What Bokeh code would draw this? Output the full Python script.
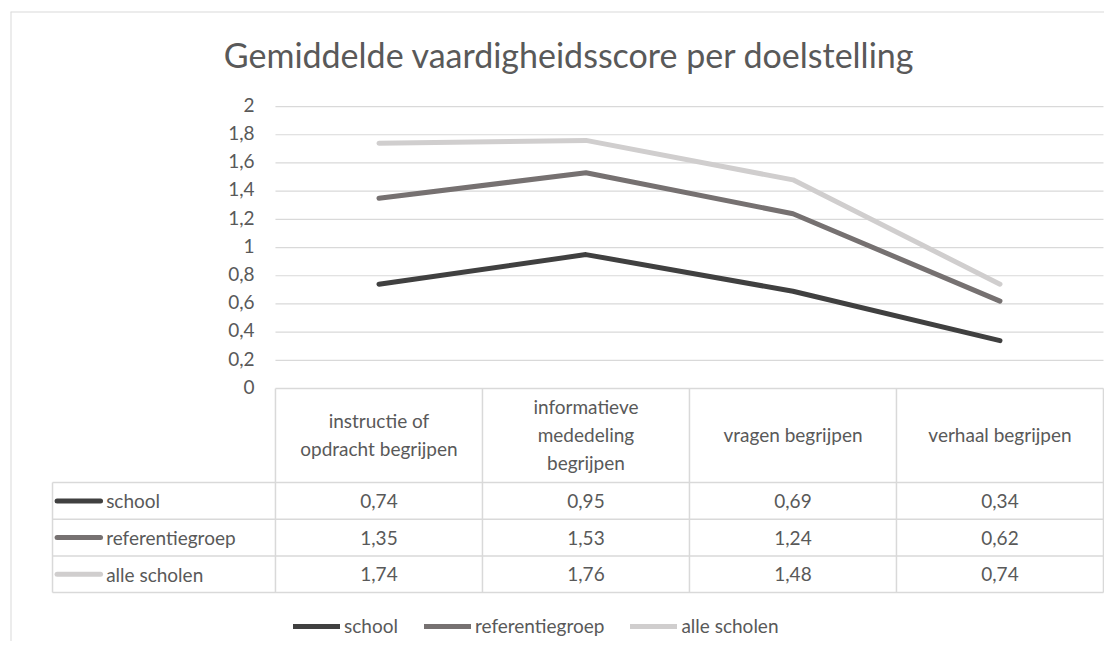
from bokeh.plotting import figure
from bokeh.models import ColumnDataSource, Range1d, Span, Legend, LegendItem
from bokeh.core.properties import value
from bokeh.embed import file_html
from bokeh.resources import INLINE

# ---- data ----
title_text = "Gemiddelde vaardigheidsscore per doelstelling"
categories = ["instructie of\nopdracht begrijpen",
              "informatieve\nmededeling\nbegrijpen",
              "vragen begrijpen",
              "verhaal begrijpen"]
series_names = ["school", "referentiegroep", "alle scholen"]
school = [0.74, 0.95, 0.69, 0.34]
referentiegroep = [1.35, 1.53, 1.24, 0.62]
alle_scholen = [1.74, 1.76, 1.48, 0.74]
y_ticks = [0, 0.2, 0.4, 0.6, 0.8, 1.0, 1.2, 1.4, 1.6, 1.8, 2.0]
y_tick_labels = ["0", "0,2", "0,4", "0,6", "0,8", "1", "1,2", "1,4", "1,6", "1,8", "2"]

series = [school, referentiegroep, alle_scholen]
colors = ["#404040", "#767171", "#d0cece"]
FONT = "Lato"
TXT = "#595959"
GRID = "#d9d9d9"
FS = "19px"

xs = list(range(len(categories)))
n = len(categories)

X0, X1 = -1.780, 3.505
Y0, Y1 = -1.794, 2.674
p = figure(width=1104, height=641, output_backend="svg", toolbar_location=None,
           x_range=Range1d(X0, X1), y_range=Range1d(Y0, Y1),
           min_border_left=10, min_border_top=11, min_border_right=0, min_border_bottom=0)
p.axis.visible = False
p.grid.visible = False
p.outline_line_color = None
p.background_fill_color = "white"
p.border_fill_color = "white"

# outer chart border (left / top)
p.add_layout(Span(location=X0, dimension="height", line_color=GRID, line_width=2))
p.add_layout(Span(location=Y1, dimension="width", line_color=GRID, line_width=2))

# title
p.text(x=[(n - 1) / 2 - 0.58], y=[2.37], text=[title_text],
       text_font=value(FONT), text_font_size="34px", text_color=TXT,
       text_align="center", text_baseline="middle")

# gridlines
gt = y_ticks[1:]
p.segment(x0=[-0.5] * len(gt), x1=[n - 0.5] * len(gt), y0=gt, y1=gt,
          line_color=GRID, line_width=1.2)

# y tick labels
p.text(x=[-0.601] * len(y_ticks), y=[t + 0.012 for t in y_ticks], text=y_tick_labels,
       text_font=value(FONT), text_font_size=FS, text_color=TXT,
       text_align="right", text_baseline="middle")

# ---- data table ----
head_bot = -0.667
row_h = 0.26
tbl_left = -1.577
row_lines = [head_bot - i * row_h for i in range(len(series) + 1)]
tbl_bot = row_lines[-1]
p.segment(x0=[-0.5], x1=[n - 0.5], y0=[0], y1=[0], line_color=GRID, line_width=1.5)
p.segment(x0=[tbl_left] * len(row_lines), x1=[n - 0.5] * len(row_lines),
          y0=row_lines, y1=row_lines, line_color=GRID, line_width=1.5)
vx = [i - 0.5 for i in range(n + 1)]
p.segment(x0=vx, x1=vx, y0=[0] * len(vx), y1=[tbl_bot] * len(vx),
          line_color=GRID, line_width=1.5)
p.segment(x0=[tbl_left], x1=[tbl_left], y0=[head_bot], y1=[tbl_bot],
          line_color=GRID, line_width=1.5)

# header labels
p.text(x=xs, y=[head_bot / 2 + 0.005] * n, text=categories,
       text_font=value(FONT), text_font_size=FS, text_color=TXT,
       text_align="center", text_baseline="middle", text_line_height=1.22)

# rows
for k, (name, vals, col) in enumerate(zip(series_names, series, colors)):
    yc = head_bot - (k + 0.5) * row_h
    p.text(x=xs, y=[yc] * n, text=[f"{v:.2f}".replace(".", ",") for v in vals],
           text_font=value(FONT), text_font_size=FS, text_color=TXT,
           text_align="center", text_baseline="middle")
    p.segment(x0=[-1.555], x1=[-1.345], y0=[yc], y1=[yc], line_color=col,
              line_width=5, line_cap="round")
    p.text(x=[-1.318], y=[yc], text=[name], text_font=value(FONT),
           text_font_size=FS, text_color=TXT, text_align="left",
           text_baseline="middle")

# lines
renderers = []
for name, vals, col in zip(series_names, series, colors):
    src = ColumnDataSource(dict(x=xs, y=vals))
    r = p.line("x", "y", source=src, line_color=col, line_width=5,
               line_cap="round", line_join="round")
    renderers.append((name, r))

legend = Legend(items=[LegendItem(label=nm, renderers=[r]) for nm, r in renderers],
                orientation="horizontal", location=(283, 4),
                glyph_width=47, glyph_height=20, label_standoff=4, spacing=26,
                padding=0, margin=0, border_line_color=None,
                background_fill_alpha=0, label_text_font=FONT,
                label_text_font_size=FS, label_text_color=TXT,
                label_height=20)
p.add_layout(legend, "center")

open("out.html", "w").write(file_html(p, INLINE))
